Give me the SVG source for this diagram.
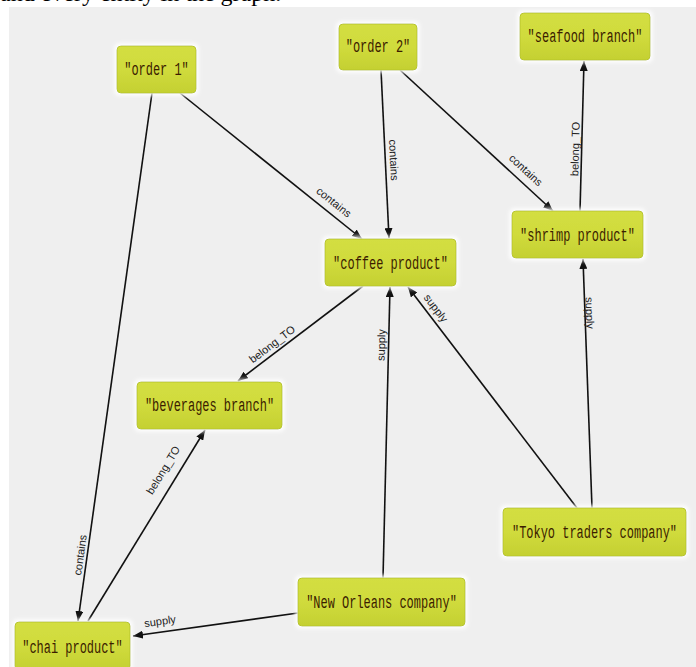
<svg xmlns="http://www.w3.org/2000/svg" width="696" height="667" viewBox="0 0 696 667">
  <style>
    .node rect { fill: url(#nodeFill); stroke: #b9c62c; stroke-width: 1; filter: url(#glow); }
    .node text { font-family: "Liberation Mono", "DejaVu Sans Mono", monospace; font-size: 19px; fill: #3b1c00; text-anchor: middle; dominant-baseline: central; }
    .edge { stroke: #111; stroke-width: 1.6; fill: none; marker-end: url(#arrow); }
    .lbl { font-family: "Liberation Sans", Arial, sans-serif; font-size: 11px; fill: #222; text-anchor: middle; dominant-baseline: central; }
  </style>
  <defs>
    <linearGradient id="nodeFill" x1="0" y1="0" x2="0" y2="1">
      <stop offset="0" stop-color="#d3de42"/>
      <stop offset="0.5" stop-color="#d0db3c"/>
      <stop offset="1" stop-color="#c4d032"/>
    </linearGradient>
    <filter id="glow" x="-20%" y="-30%" width="140%" height="160%">
      <feMorphology in="SourceAlpha" operator="dilate" radius="2" result="d"/>
      <feGaussianBlur in="d" stdDeviation="2" result="b"/>
      <feFlood flood-color="#ffffff"/>
      <feComposite in2="b" operator="in" result="halo"/>
      <feMerge>
        <feMergeNode in="halo"/>
        <feMergeNode in="SourceGraphic"/>
      </feMerge>
    </filter>
    <marker id="arrow" markerUnits="userSpaceOnUse" markerWidth="10" markerHeight="8" refX="10" refY="4" orient="auto">
      <path d="M0,0 L10,4 L0,8 z" fill="#111"/>
    </marker>
  </defs>

  <rect x="0" y="0" width="696" height="667" fill="#ffffff"/>
  <rect x="9" y="7" width="687" height="660" fill="#efefef"/>
  <text x="0" y="1" font-family="Liberation Serif, serif" font-size="24" fill="#000">and every entity in the graph.</text>

  <g id="connectors">
    <line class="edge" x1="180" y1="93" x2="362" y2="239"/>
    <line class="edge" x1="152" y1="93" x2="78" y2="621"/>
    <line class="edge" x1="381" y1="70" x2="389" y2="238"/>
    <line class="edge" x1="400" y1="70" x2="553" y2="211"/>
    <line class="edge" x1="580" y1="211" x2="584" y2="61"/>
    <line class="edge" x1="363" y1="286" x2="238" y2="381"/>
    <line class="edge" x1="88" y1="621" x2="205" y2="430"/>
    <line class="edge" x1="383" y1="578" x2="390" y2="287"/>
    <line class="edge" x1="577" y1="508" x2="408" y2="287"/>
    <line class="edge" x1="592" y1="508" x2="583" y2="259"/>
    <line class="edge" x1="298" y1="613" x2="133" y2="636"/>

    <text class="lbl" transform="translate(334,202) rotate(38.7)">contains</text>
    <text class="lbl" transform="translate(80,555) rotate(-82)">contains</text>
    <text class="lbl" transform="translate(394,160) rotate(87.3)">contains</text>
    <text class="lbl" transform="translate(526,170) rotate(42.7)">contains</text>
    <text class="lbl" transform="translate(575,149) rotate(-88.5)">belong_TO</text>
    <text class="lbl" transform="translate(272,344) rotate(-37.2)">belong_TO</text>
    <text class="lbl" transform="translate(163,470) rotate(-58.5)">belong_TO</text>
    <text class="lbl" transform="translate(381,345) rotate(-88.6)">supply</text>
    <text class="lbl" transform="translate(436,308) rotate(52.6)">supply</text>
    <text class="lbl" transform="translate(590,313) rotate(87.9)">supply</text>
    <text class="lbl" transform="translate(160,621) rotate(-7.9)">supply</text>
  </g>

  <!-- node labels: monospace squeezed horizontally to a condensed face -->
  <g id="order1" class="node">
    <rect x="117" y="46" width="79" height="47" rx="4"/>
    <text transform="translate(156.5,70) scale(0.63,1)">"order 1"</text>
  </g>
  <g id="order2" class="node">
    <rect x="339" y="24" width="78" height="46" rx="4"/>
    <text transform="translate(378,47) scale(0.63,1)">"order 2"</text>
  </g>
  <g id="seafood-branch" class="node">
    <rect x="520" y="13" width="130" height="47" rx="4"/>
    <text transform="translate(585,37) scale(0.63,1)">"seafood branch"</text>
  </g>
  <g id="coffee-product" class="node">
    <rect x="325" y="239" width="131" height="47" rx="4"/>
    <text transform="translate(390.5,264) scale(0.63,1)">"coffee product"</text>
  </g>
  <g id="shrimp-product" class="node">
    <rect x="512" y="211" width="131" height="47" rx="4"/>
    <text transform="translate(577.5,236) scale(0.63,1)">"shrimp product"</text>
  </g>
  <g id="beverages-branch" class="node">
    <rect x="137" y="382" width="145" height="47" rx="4"/>
    <text transform="translate(209.5,406) scale(0.63,1)">"beverages branch"</text>
  </g>
  <g id="tokyo-traders" class="node">
    <rect x="503" y="508" width="183" height="48" rx="4"/>
    <text transform="translate(594.5,533) scale(0.63,1)">"Tokyo traders company"</text>
  </g>
  <g id="new-orleans" class="node">
    <rect x="298" y="578" width="167" height="48" rx="4"/>
    <text transform="translate(381.5,603) scale(0.63,1)">"New Orleans company"</text>
  </g>
  <g id="chai-product" class="node">
    <rect x="15" y="622" width="115" height="48" rx="4"/>
    <text transform="translate(72.5,648) scale(0.63,1)">"chai product"</text>
  </g>
</svg>
